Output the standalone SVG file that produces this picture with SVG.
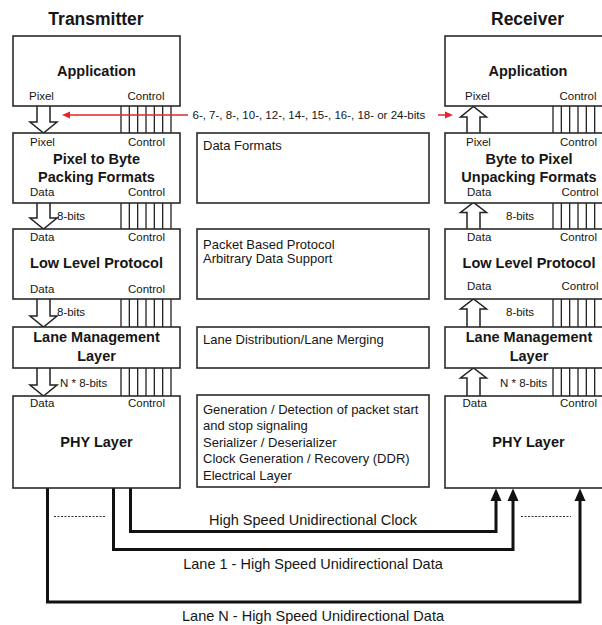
<svg xmlns="http://www.w3.org/2000/svg" width="602" height="625" viewBox="0 0 602 625">
  <style>
    .box{fill:#fff;stroke:#2a2a2a;stroke-width:1.6}
    .t{font-family:"Liberation Sans",Arial,Helvetica,sans-serif;fill:#161616}
    .hdr{font-size:17.5px;font-weight:bold;text-anchor:middle}
    .title{font-size:14.5px;font-weight:bold;text-anchor:middle}
    .lbl{font-size:11.5px}
    .desc{font-size:13px}
    .cap{font-size:14.5px;text-anchor:middle}
    .bus{fill:none;stroke:#222;stroke-width:1.3}
    .hollow{fill:#fff;stroke:#222;stroke-width:1.5}
    .lane{fill:none;stroke:#111;stroke-width:3}
    .dots{stroke:#333;stroke-width:1;stroke-dasharray:2 1.5}
    .red{stroke:#e3262a;stroke-width:1.5;fill:none}
  </style>
  <defs>
    <!-- seven parallel control wires -->
    <path id="bus" class="bus" d="M0,0V29M8.33,0V29M16.67,0V29M25,0V29M33.33,0V29M41.67,0V29M50,0V29"/>
    <marker id="headBlack" markerUnits="userSpaceOnUse" markerWidth="13" markerHeight="12" refX="1" refY="6" orient="auto">
      <path d="M0,0.5 L12.5,6 L0,11.5 z" fill="#111"/>
    </marker>
    <marker id="headRed" markerUnits="userSpaceOnUse" markerWidth="9" markerHeight="8" refX="1" refY="4" orient="auto">
      <path d="M0,0.5 L8,4 L0,7.5 z" fill="#e3262a"/>
    </marker>
  </defs>

  <!-- column headings -->
  <text class="t hdr" x="96" y="25">Transmitter</text>
  <text class="t hdr" x="527.5" y="25">Receiver</text>

  <!-- control buses and data arrows between layers -->
  <g id="connectors">
    <use href="#bus" x="121" y="105"/>
    <use href="#bus" x="121" y="202"/>
    <use href="#bus" x="121" y="298"/>
    <use href="#bus" x="121" y="367"/>
    <use href="#bus" x="553" y="105"/>
    <use href="#bus" x="553" y="202"/>
    <use href="#bus" x="553" y="298"/>
    <use href="#bus" x="553" y="367"/>

    <!-- transmitter: data flows down -->
    <path class="hollow" d="M37,106V122H30L43.5,133L57,122H50V106"/>
    <path class="hollow" d="M37,203V218H30L43.5,229L57,218H50V203"/>
    <path class="hollow" d="M37,299V316H30L43.5,327L57,316H50V299"/>
    <path class="hollow" d="M37,368V385H30L43.5,396L57,385H50V368"/>
    <!-- receiver: data flows up -->
    <path class="hollow" d="M467,133V117H460.5L473.5,106.5L486.5,117H480V133"/>
    <path class="hollow" d="M467,229V212.5H460.5L473.5,202.5L486.5,212.5H480V229"/>
    <path class="hollow" d="M467,327V309H460.5L473.5,299L486.5,309H480V327"/>
    <path class="hollow" d="M467,396V378H460.5L473.5,368L486.5,378H480V396"/>

    <!-- pixel width indication -->
    <line class="red" x1="188" y1="115" x2="69" y2="115" marker-end="url(#headRed)"/>
    <line class="red" x1="438" y1="115" x2="446" y2="115" marker-end="url(#headRed)"/>

    <!-- PHY lanes -->
    <path class="lane" d="M130.5,488V531.5H496V500" marker-end="url(#headBlack)"/>
    <path class="lane" d="M113.5,488V549.5H513V500" marker-end="url(#headBlack)"/>
    <path class="lane" d="M47.5,488V602H580V500" marker-end="url(#headBlack)"/>
    <line class="dots" x1="54" y1="516.5" x2="105" y2="516.5"/>
    <line class="dots" x1="521" y1="516.5" x2="571" y2="516.5"/>
  </g>

  <!-- connector labels -->
  <text class="t lbl" x="192.5" y="119">6-, 7-, 8-, 10-, 12-, 14-, 15-, 16-, 18- or 24-bits</text>
  <text class="t lbl" x="57" y="219.5">8-bits</text>
  <text class="t lbl" x="57" y="315.5">8-bits</text>
  <text class="t lbl" x="60" y="387">N * 8-bits</text>
  <text class="t lbl" x="506" y="219.5">8-bits</text>
  <text class="t lbl" x="506" y="315.5">8-bits</text>
  <text class="t lbl" x="500" y="387">N * 8-bits</text>
  <text class="t cap" x="313" y="525">High Speed Unidirectional Clock</text>
  <text class="t cap" x="313" y="569">Lane 1 - High Speed Unidirectional Data</text>
  <text class="t cap" x="313" y="621">Lane N - High Speed Unidirectional Data</text>

  <!-- transmitter stack -->
  <g id="tx-app">
    <rect class="box" x="13" y="36" width="167" height="70"/>
    <text class="t title" x="96.5" y="75.5">Application</text>
    <text class="t lbl" x="29" y="100">Pixel</text>
    <text class="t lbl" x="127.5" y="100">Control</text>
  </g>
  <g id="tx-pack">
    <rect class="box" x="13" y="133" width="167" height="70"/>
    <text class="t lbl" x="30" y="146">Pixel</text>
    <text class="t lbl" x="128" y="146">Control</text>
    <text class="t title" x="96.5" y="163.5">Pixel to Byte</text>
    <text class="t title" x="96.5" y="182">Packing Formats</text>
    <text class="t lbl" x="30" y="196">Data</text>
    <text class="t lbl" x="128" y="196">Control</text>
  </g>
  <g id="tx-llp">
    <rect class="box" x="13" y="229" width="167" height="70"/>
    <text class="t lbl" x="30" y="240.5">Data</text>
    <text class="t lbl" x="128" y="240.5">Control</text>
    <text class="t title" x="96.5" y="268">Low Level Protocol</text>
    <text class="t lbl" x="30" y="292.5">Data</text>
    <text class="t lbl" x="128" y="292.5">Control</text>
  </g>
  <g id="tx-lane">
    <rect class="box" x="13" y="327" width="167" height="41"/>
    <text class="t title" x="96.5" y="342">Lane Management</text>
    <text class="t title" x="96.5" y="361">Layer</text>
  </g>
  <g id="tx-phy">
    <rect class="box" x="13" y="396" width="167" height="92"/>
    <text class="t lbl" x="30" y="407">Data</text>
    <text class="t lbl" x="128" y="407">Control</text>
    <text class="t title" x="96.5" y="447">PHY Layer</text>
  </g>

  <!-- layer descriptions -->
  <g id="desc-formats">
    <rect class="box" x="197" y="133" width="232" height="70"/>
    <text class="t desc" x="203" y="150">Data Formats</text>
  </g>
  <g id="desc-protocol">
    <rect class="box" x="197" y="229" width="232" height="70"/>
    <text class="t desc" x="203" y="248.5">Packet Based Protocol</text>
    <text class="t desc" x="203" y="263">Arbitrary Data Support</text>
  </g>
  <g id="desc-lane">
    <rect class="box" x="197" y="327" width="232" height="41"/>
    <text class="t desc" x="203" y="343.5">Lane Distribution/Lane Merging</text>
  </g>
  <g id="desc-phy">
    <rect class="box" x="197" y="395" width="232" height="92"/>
    <text class="t desc" x="203" y="413.5">Generation / Detection of packet start</text>
    <text class="t desc" x="203" y="430">and stop signaling</text>
    <text class="t desc" x="203" y="446.5">Serializer / Deserializer</text>
    <text class="t desc" x="203" y="463">Clock Generation / Recovery (DDR)</text>
    <text class="t desc" x="203" y="479.5">Electrical Layer</text>
  </g>

  <!-- receiver stack -->
  <g id="rx-app">
    <rect class="box" x="445" y="36" width="167" height="70"/>
    <text class="t title" x="528" y="75.5">Application</text>
    <text class="t lbl" x="465" y="100">Pixel</text>
    <text class="t lbl" x="559.5" y="100">Control</text>
  </g>
  <g id="rx-unpack">
    <rect class="box" x="445" y="133" width="167" height="70"/>
    <text class="t lbl" x="466" y="146">Pixel</text>
    <text class="t lbl" x="560" y="146">Control</text>
    <text class="t title" x="529" y="163.5">Byte to Pixel</text>
    <text class="t title" x="529" y="182">Unpacking Formats</text>
    <text class="t lbl" x="467" y="196">Data</text>
    <text class="t lbl" x="561.5" y="196">Control</text>
  </g>
  <g id="rx-llp">
    <rect class="box" x="445" y="229" width="167" height="70"/>
    <text class="t lbl" x="467" y="240.5">Data</text>
    <text class="t lbl" x="560" y="240.5">Control</text>
    <text class="t title" x="529" y="267.5">Low Level Protocol</text>
    <text class="t lbl" x="467" y="289.5">Data</text>
    <text class="t lbl" x="561.5" y="289.5">Control</text>
  </g>
  <g id="rx-lane">
    <rect class="box" x="445" y="327" width="167" height="41"/>
    <text class="t title" x="529" y="342">Lane Management</text>
    <text class="t title" x="529" y="361">Layer</text>
  </g>
  <g id="rx-phy">
    <rect class="box" x="445" y="396" width="167" height="92"/>
    <text class="t lbl" x="462.5" y="407">Data</text>
    <text class="t lbl" x="560" y="407">Control</text>
    <text class="t title" x="528.5" y="447">PHY Layer</text>
  </g>
</svg>
